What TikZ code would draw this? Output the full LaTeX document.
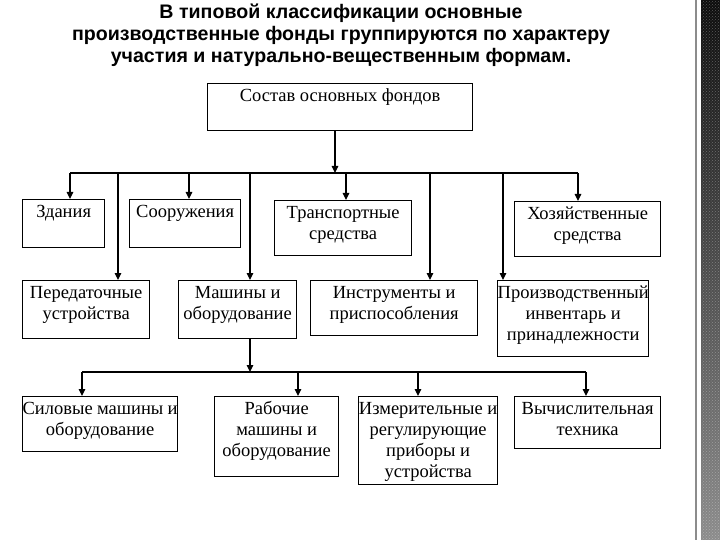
\documentclass[tikz,border=0pt]{standalone}
\usepackage{fontspec}
\setmainfont{Liberation Serif}
\newfontfamily\titlefont{Liberation Sans}
\usetikzlibrary{arrows.meta,patterns}
\tikzset{
  blk/.style={draw, line width=1.3pt, inner sep=0pt, anchor=north west,
    font=\fontsize{18.5}{21}\selectfont},
  ln/.style={line width=1.2pt},
  arr/.style={line width=1.2pt, -{Triangle[length=7pt,width=6.5pt]}}
}
% box: name, x, y, width, height, text (text hangs from the top edge)
\newcommand\fond[6]{\node[blk] (#1) at (#2,#3)
  {\parbox[t][#5pt][t]{#4pt}{\centering\vspace*{3pt}\strut#6}};}

\begin{document}
\begin{tikzpicture}[x=1pt, y=-1pt]
		\useasboundingbox (0,0) rectangle (720,540);
		
		%%%%% TITLE %%%%%
		\node[anchor=north, align=center, inner sep=0pt,
		  font=\titlefont\bfseries\fontsize{19.6}{22}\selectfont]
		  (title) at (341,4) {В типовой классификации основные\\
		  производственные фонды группируются по характеру\\
		  участия и натурально-вещественным формам.};
		
		%%%%% BOXES %%%%%
		\fond{sostav}{207}{83}{265}{47}{Состав основных фондов}
		
		\fond{zd}{22}{199}{82}{48}{Здания}
		\fond{soor}{129}{199}{111}{48}{Сооружения}
		\fond{trans}{274}{200}{137}{55}{Транспортные\\ средства}
		\fond{hoz}{514}{201}{146}{55}{Хозяйственные\\ средства}
		
		\fond{pered}{22}{280}{127}{58}{Передаточные\\ устройства}
		\fond{mash}{178}{280}{118}{58}{Машины и\\ оборудование}
		\fond{instr}{310}{280}{167}{55}{Инструменты и\\ приспособления}
		\fond{proizv}{497}{280}{151}{76}{Производственный\\ инвентарь и\\ принадлежности}
		
		\fond{silov}{22}{396}{155}{55}{Силовые машины и\\ оборудование}
		\fond{rab}{214}{396}{124}{80}{Рабочие\\ машины и\\ оборудование}
		\fond{izm}{358}{396}{139}{88}{Измерительные и\\ регулирующие\\ приборы и\\ устройства}
		\fond{vych}{514}{396}{146}{52}{Вычислительная\\ техника}
		
		%%%%% UPPER BUS %%%%%
		\coordinate (s0) at (335,173);
		\coordinate (a1) at (70,173);
		\coordinate (a2) at (118,173);
		\coordinate (a3) at (189,173);
		\coordinate (a4) at (250,173);
		\coordinate (a5) at (346,173);
		\coordinate (a6) at (430,173);
		\coordinate (a7) at (503,173);
		\coordinate (a8) at (578,173);
		
		\draw[arr] (sostav.south -| s0) -- (s0);
		\draw[ln] (a1) -- (a8);
		\draw[arr] (a1) -- (a1 |- zd.north);
		\draw[arr] (a3) -- (a3 |- soor.north);
		\draw[arr] (a5) -- (a5 |- trans.north);
		\draw[arr] (a8) -- (a8 |- hoz.north);
		\draw[arr] (a2) -- (a2 |- pered.north);
		\draw[arr] (a4) -- (a4 |- mash.north);
		\draw[arr] (a6) -- (a6 |- instr.north);
		\draw[arr] (a7) -- (a7 |- proizv.north);
		
		%%%%% LOWER BUS %%%%%
		\coordinate (m0) at (250,372);
		\coordinate (c1) at (82,372);
		\coordinate (c2) at (298,372);
		\coordinate (c3) at (418,372);
		\coordinate (c4) at (586,372);
		
		\draw[arr] (mash.south -| m0) -- (m0);
		\draw[ln] (c1) -- (c4);
		\draw[arr] (c1) -- (c1 |- silov.north);
		\draw[arr] (c2) -- (c2 |- rab.north);
		\draw[arr] (c3) -- (c3 |- izm.north);
		\draw[arr] (c4) -- (c4 |- vych.north);
		
		%%%%% RIGHT EDGE STRIP %%%%%
		\draw[line width=1.6pt, color=black!45] (696,0) -- (696,540);
		\shade[top color=black!95, bottom color=black!45] (701,0) rectangle (720,540);
		\fill[pattern=crosshatch dots, pattern color=white, opacity=0.3] (701,0) rectangle (720,540);
		
	\end{tikzpicture}
\end{document}
